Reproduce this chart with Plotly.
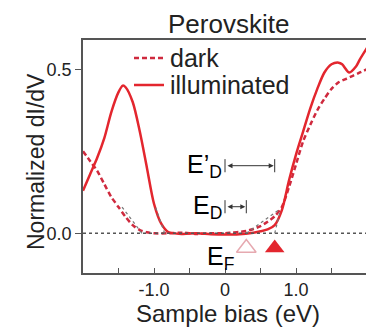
import plotly.graph_objects as go

# Sample bias (eV)
x_illum = [-2.0, -1.9, -1.8, -1.7, -1.6, -1.5, -1.44, -1.4, -1.3, -1.2, -1.1, -1.0, -0.9, -0.8,
           -0.6, -0.4, -0.2, 0.0, 0.2, 0.4, 0.5, 0.6, 0.7, 0.8, 0.9, 1.0, 1.1, 1.2, 1.3, 1.4,
           1.5, 1.6, 1.65, 1.75, 1.85, 1.9, 2.0]
y_illum = [0.13, 0.18, 0.23, 0.29, 0.37, 0.43, 0.45, 0.445, 0.40, 0.31, 0.20, 0.09, 0.03, 0.004,
           -0.002, 0.0, -0.003, -0.004, -0.003, 0.002, 0.006, 0.012, 0.025, 0.07, 0.16, 0.24, 0.31, 0.38, 0.44, 0.49,
           0.515, 0.52, 0.515, 0.49, 0.51, 0.53, 0.565]

x_dark = [-2.0, -1.9, -1.8, -1.7, -1.6, -1.5, -1.4, -1.3, -1.2, -1.1, -1.0, -0.8, -0.6, -0.4,
          -0.2, 0.0, 0.1, 0.2, 0.3, 0.4, 0.5, 0.6, 0.7, 0.8, 0.9, 1.0, 1.1, 1.2, 1.3, 1.4,
          1.5, 1.6, 1.7, 1.8, 1.9, 2.0]
y_dark = [0.25, 0.22, 0.19, 0.15, 0.11, 0.08, 0.05, 0.025, 0.01, 0.003, 0.0, 0.0, 0.002, -0.002,
          0.0, 0.0, 0.002, 0.004, 0.007, 0.013, 0.022, 0.035, 0.052, 0.08, 0.14, 0.21, 0.28, 0.33, 0.375, 0.41,
          0.44, 0.46, 0.47, 0.48, 0.49, 0.50]

x_ticks = [-1.5, -1.0, -0.5, 0.0, 0.5, 1.0, 1.5]
x_ticklabels = ["", "-1.0", "", "0", "", "1.0", ""]
y_ticks = [0.0, 0.5]
y_ticklabels = ["0.0", "0.5"]

series_names = ["dark", "illuminated"]

# Fermi level markers: dark (open) and illuminated (filled)
ef_x = [0.3, 0.7]
ef_y = [-0.045, -0.045]
# Energy offsets relative to 0 bias
ed_dark = 0.3
ed_illum = 0.7

RED = "#e3262e"
DARKRED = "#cf2a3e"
GRAY = "#555555"
TXT = "#222222"
FONT = "Liberation Sans, Arial, sans-serif"

OFF = 8  # page body margin offset
W, H = 374 - OFF, 331 - OFF
L, T = 83 - OFF, 40 - OFF
R = W - (367 - OFF)
B = H - (273 - OFF)
PW, PH = W - L - R, H - T - B


def px(xs):
    return (xs - OFF - L) / PW


def py(ys):
    return (H - B - (ys - OFF)) / PH


fig = go.Figure()

dark_line = dict(color=DARKRED, width=2.5, dash="5px,3px")
illum_line = dict(color=RED, width=2.5)

fig.add_trace(go.Scatter(x=x_dark, y=y_dark, mode="lines", name=series_names[0], showlegend=False,
                         line=dict(**dark_line, shape="spline", smoothing=0.8)))
fig.add_trace(go.Scatter(x=x_illum, y=y_illum, mode="lines", name=series_names[1], showlegend=False,
                         line=dict(**illum_line, shape="spline", smoothing=0.8)))

fig.add_trace(go.Scatter(x=[ef_x[0]], y=[ef_y[0]], mode="markers", showlegend=False,
                         marker=dict(symbol="triangle-up-open", size=17, color="#e6a9b0",
                                     line=dict(width=1.5, color="#e6a9b0"))))
fig.add_trace(go.Scatter(x=[ef_x[1]], y=[ef_y[1]], mode="markers", showlegend=False,
                         marker=dict(symbol="triangle-up", size=17, color=RED)))

# zero line dotted
fig.add_shape(type="line", xref="paper", x0=0, x1=1, yref="y", y0=0, y1=0,
              line=dict(color=GRAY, width=1.5, dash="dot"))
# tangent extrapolation dotted lines
for (xa, ya, xb, yb) in [(-1.17, 0.0, -1.45, 0.08), (-0.85, 0.0, -0.98, 0.08),
                         (0.3, 0.0, 0.75, 0.07), (0.7, 0.0, 0.78, 0.07)]:
    fig.add_shape(type="line", x0=xa, y0=ya, x1=xb, y1=yb,
                  line=dict(color="#777777", width=1.2, dash="dot"))

# legend (manual, for compact spacing)
for i, (nm, ln) in enumerate(zip(series_names, [dark_line, illum_line])):
    yc = py(58 + 27 * i)
    fig.add_shape(type="line", xref="paper", yref="paper", x0=px(134), x1=px(164), y0=yc, y1=yc,
                  line=ln)
    fig.add_annotation(x=px(168), y=yc, xref="paper", yref="paper", xanchor="left", yanchor="middle",
                       text=nm, showarrow=False, font=dict(size=25, color=TXT, family=FONT))

# E'_D and E_D arrows
for (xe, ya) in [(ed_illum, 0.206), (ed_dark, 0.081)]:
    fig.add_annotation(x=xe, y=ya, ax=0, ay=ya, xref="x", yref="y", axref="x", ayref="y",
                       text="", showarrow=True, arrowhead=2, startarrowhead=2, arrowside="end+start",
                       arrowsize=1, arrowwidth=1, arrowcolor="#333333", standoff=1, startstandoff=1)
    for xv in [0.0, xe]:
        fig.add_shape(type="line", x0=xv, x1=xv, y0=ya - 0.02, y1=ya + 0.02,
                      line=dict(color="#333333", width=1))

fig.add_annotation(x=-0.02, y=0.206, xref="x", yref="y", xanchor="right", yanchor="middle",
                   text="E’<sub>D</sub>", showarrow=False, font=dict(size=25, color="black", family=FONT))
fig.add_annotation(x=-0.02, y=0.081, xref="x", yref="y", xanchor="right", yanchor="middle",
                   text="E<sub>D</sub>", showarrow=False, font=dict(size=25, color="black", family=FONT))
fig.add_annotation(x=-0.28, y=-0.075, xref="x", yref="y", xanchor="left", yanchor="middle",
                   text="E<sub>F</sub>", showarrow=False, font=dict(size=25, color="black", family=FONT))

# titles
fig.add_annotation(x=px(228), y=py(OFF), xref="paper", yref="paper", xanchor="center", yanchor="top",
                   borderpad=0, text="Perovskite", showarrow=False, font=dict(size=26, color=TXT, family=FONT))
fig.add_annotation(x=px(228), y=py(313), xref="paper", yref="paper", xanchor="center", yanchor="middle",
                   text="Sample bias (eV)", showarrow=False, font=dict(size=24, color=TXT, family=FONT))
fig.add_annotation(x=px(36), y=py(162), xref="paper", yref="paper", xanchor="center", yanchor="middle",
                   text="Normalized dI/dV", textangle=-90, showarrow=False,
                   font=dict(size=23, color=TXT, family=FONT))

fig.update_layout(
    width=W, height=H,
    margin=dict(l=L, r=R, t=T, b=B, autoexpand=False),
    paper_bgcolor="white", plot_bgcolor="white",
    font=dict(family=FONT, color=TXT),
    showlegend=False,
    xaxis=dict(range=[-2, 2], tickvals=x_ticks, ticktext=x_ticklabels, ticks="inside", ticklen=5,
               tickcolor=GRAY, showline=True, linecolor=GRAY, linewidth=1.5, mirror=True, showgrid=False,
               zeroline=False, automargin=False, tickfont=dict(size=18, family=FONT, color=TXT)),
    yaxis=dict(range=[-0.121, 0.589], tickvals=y_ticks, ticktext=y_ticklabels, ticks="outside", ticklen=6,
               tickcolor=GRAY, showline=True, linecolor=GRAY, linewidth=1.5, mirror=True, showgrid=False,
               zeroline=False, automargin=False, tickfont=dict(size=18, family=FONT, color=TXT)),
)

fig.write_html("out.html")
